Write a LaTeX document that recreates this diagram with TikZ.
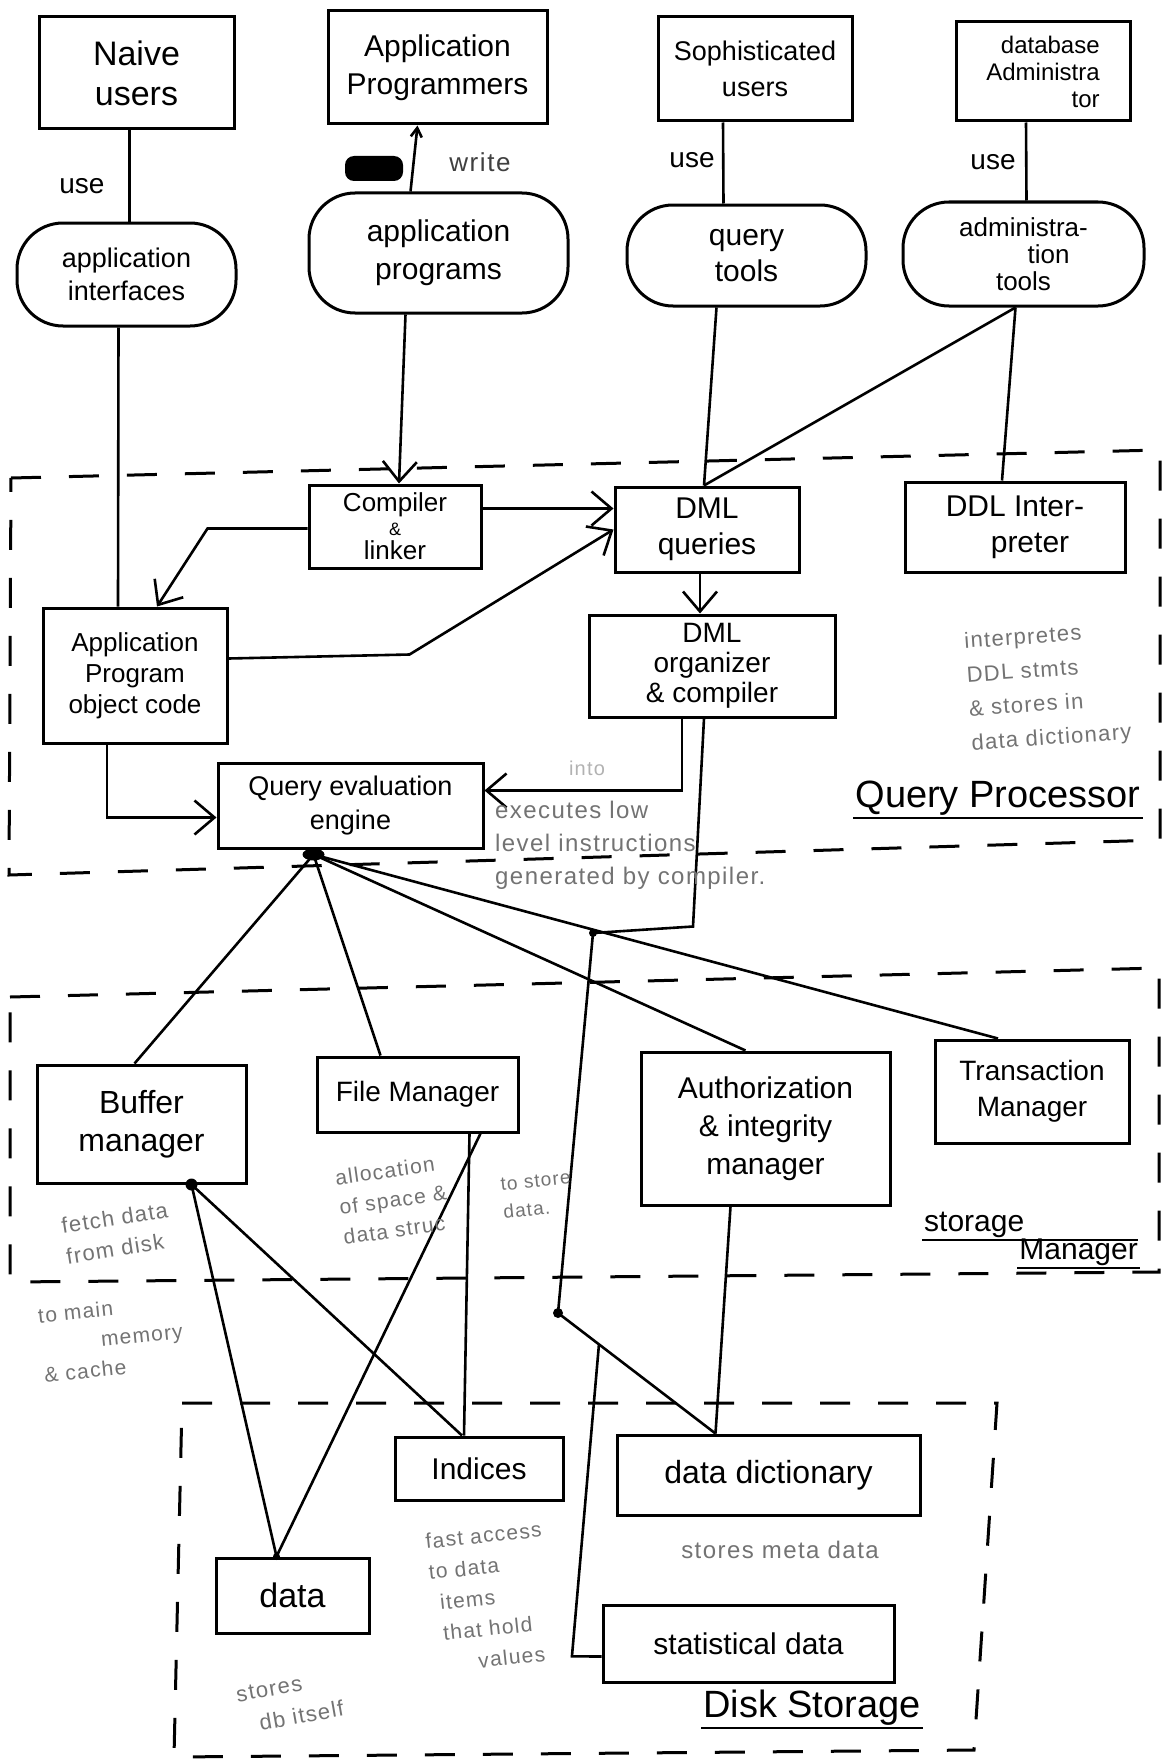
\documentclass[tikz,border=0pt]{standalone}
\usepackage{fontspec}
\setmainfont{Liberation Sans}
\newfontfamily\hand[LetterSpace=6]{Liberation Sans}
\usetikzlibrary{arrows.meta,calc}
\begin{document}
\begin{tikzpicture}[x=1pt,y=-1pt,
  box/.style={draw, line width=3pt, align=center, inner sep=2pt},
  oval/.style={draw, line width=3pt, rounded corners=46pt, align=center, inner sep=2pt},
  link/.style={line width=2.6pt},
  arr/.style={link, -{Straight Barb[length=20pt,width=34pt]}},
  zone/.style={line width=3pt, dash pattern=on 30pt off 28pt},
  fs/.style 2 args={font=\fontsize{#1}{#2}\selectfont},
  note/.style={text=black!55, align=left, inner sep=1pt},
  title/.style={inner sep=2pt, fs={38}{44}},
]
\useasboundingbox (0,0) rectangle (1168,1763);
\fill[white] (0,0) rectangle (1168,1763);

% ---- dashed zones ----
\draw[zone] (11,478) -- (1160,450) -- (1160,840) -- (9,875) -- cycle;
\draw[zone] (10,997) -- (1159,968) -- (1159,1272) -- (10,1282) -- cycle;
\draw[zone] (182,1403) -- (997,1403) -- (974,1750) -- (174,1757) -- cycle;

% ---- users ----
\node[box, minimum width=195pt, minimum height=112pt, fs={34}{40}] (naive) at (136.5,73) {Naive\\users};
\node[box, minimum width=219pt, minimum height=113pt, fs={30}{38}] (appprog) at (437.5,67.5) {Application\\Programmers};
\node[box, minimum width=194pt, minimum height=104pt, fs={27}{36}] (soph) at (755,69) {Sophisticated\\users};
\node[box, minimum width=174pt, minimum height=99pt, fs={24}{27}, align=right] (dba) at (1043,71.5) {database\\Administra\\tor};

% ---- tools ----
\node[oval, minimum width=219pt, minimum height=103pt, fs={27}{33}] (appif) at (126.5,274.5) {application\\interfaces};
\node[oval, minimum width=259pt, minimum height=120pt, fs={30}{38}] (appprogs) at (438.5,253) {application\\programs};
\node[oval, minimum width=239pt, minimum height=101pt, fs={30}{36}] (qtools) at (746.5,255.5) {query\\tools};
\node[oval, minimum width=241pt, minimum height=104pt, fs={26}{27}] (admtools) at (1023.5,254) {administra-\\\hspace*{50pt}tion\\tools};

% ---- labels on user links ----
\node[fs={28}{30}] (use1) at (82,186) {use};
\node[text=black!75, font=\hand\fontsize{26}{30}\selectfont] (write) at (480,162) {write};
\node[fs={28}{30}] (use3) at (692,160) {use};
\node[fs={28}{30}] (use4) at (993,162) {use};
\fill[black, rounded corners=9pt] (345,156) rectangle (403,181);

% ---- query processor ----
\node[box, minimum width=172pt, minimum height=83pt, fs={26}{24}] (compiler) at (395,526.5) {Compiler\\{\fontsize{18}{18}\selectfont\&}\\linker};
\node[box, minimum width=184pt, minimum height=85pt, fs={30}{36}] (dmlq) at (707,529.5) {DML\\queries};
\node[box, minimum width=220pt, minimum height=90pt, fs={30}{36}] (ddl) at (1015,527) {DDL Inter-\\\hspace*{30pt}preter};
\node[box, minimum width=184pt, minimum height=135pt, fs={26}{31}] (apobj) at (135,675.5) {Application\\Program\\object code};
\node[box, minimum width=246pt, minimum height=102pt, fs={28}{30}] (dmlc) at (712,666) {DML\\organizer\\\& compiler};
\node[box, minimum width=265pt, minimum height=85pt, fs={27}{34}] (qeval) at (350.5,805.5) {Query evaluation\\engine};

% ---- storage manager ----
\node[box, minimum width=209pt, minimum height=118pt, fs={32}{38}] (buffer) at (141.5,1124) {Buffer\\manager};
\node[box, minimum width=201pt, minimum height=75pt, fs={28}{32}] (file) at (417.5,1094.5) {File Manager};
\node[box, minimum width=249pt, minimum height=153pt, fs={30}{38}] (auth) at (765.5,1128.5) {Authorization\\\& integrity\\manager};
\node[box, minimum width=194pt, minimum height=103pt, fs={28}{36}] (trans) at (1032,1091.5) {Transaction\\Manager};

% ---- disk storage ----
\node[box, minimum width=168pt, minimum height=63pt, fs={30}{34}] (indices) at (479,1468.5) {Indices};
\node[box, minimum width=303pt, minimum height=80pt, fs={32}{36}] (datadict) at (768.5,1475) {data dictionary};
\node[box, minimum width=153pt, minimum height=75pt, fs={34}{36}] (data) at (292.5,1595.5) {data};
\node[box, minimum width=291pt, minimum height=77pt, fs={30}{34}] (stat) at (748.5,1643.5) {statistical data};

% ---- connectors: users to tools ----
\draw[link] ([xshift=-7pt]naive.south) -- ([xshift=3pt]appif.north);
\draw[link, -{Straight Barb[length=9pt,width=11pt]}] ([xshift=-28pt]appprogs.north) -- ([xshift=-20pt]appprog.south);
\draw[link] ([xshift=-32pt]soph.south) -- ([xshift=-23pt]qtools.north);
\draw[link] ([xshift=-17pt]dba.south) -- ([xshift=3pt]admtools.north);

% ---- connectors: tools to query processor ----
\draw[link] ([xshift=-30pt]qtools.south) -- ([xshift=-3pt]dmlq.north);
\draw[link] ([xshift=-8pt]admtools.south) -- ([xshift=-3pt]dmlq.north);
\draw[link] ([xshift=-8pt]admtools.south) -- ([xshift=-13pt]ddl.north);
\draw[link] ([xshift=-8pt]appif.south) -- ([xshift=-17pt]apobj.north);
\draw[arr] ([xshift=-33pt]appprogs.south) -- ([xshift=4pt]compiler.north);

% ---- inside the query processor ----
\draw[arr] ([yshift=18pt]compiler.east) -- ([yshift=21pt]dmlq.west);
\draw[arr] ([yshift=-2pt]compiler.west) -- ++(-100,0) -- ([xshift=22pt]apobj.north);
\draw[arr] ([yshift=17pt]apobj.east) -- ++(181,-4) -- (dmlq.west);
\draw[arr] ([xshift=-7pt]dmlq.south) -- ([xshift=-12pt]dmlc.north);
\draw[arr] ([xshift=-30pt]dmlc.south) |- ([yshift=15pt]qeval.east);
\draw[arr] ([xshift=-28pt]apobj.south) |- ([yshift=-12pt]qeval.west);

% ---- compiler output down to the disk ----
\coordinate (j1) at (593,933);
\coordinate (j2) at (558,1313);
\draw[link] ([xshift=-8pt]dmlc.south) -- ++(-11,208) -- (j1) -- (j2) -- ([xshift=-53pt]datadict.north);
\coordinate (j3) at ($(j2)!0.26!([xshift=-53pt]datadict.north)$);
\draw[link] (j3) -- ++(-27,312) -- ([yshift=-13pt]stat.west);
\fill (j1) circle (4pt);
\fill (j2) circle (5pt);

% ---- query evaluation engine to storage manager ----
\coordinate (qb) at ([xshift=-37pt,yshift=-5pt]qeval.south);
\draw[link] (qb) -- ([xshift=-7pt]buffer.north);
\draw[link] (qb) -- ([xshift=-37pt]file.north);
\draw[link] (qb) -- ([xshift=-20pt]auth.north);
\draw[link] (qb) -- ([xshift=-34pt]trans.north);
\fill (qb) ellipse (11pt and 6pt);

% ---- storage manager to disk ----
\coordinate (bb) at ([xshift=50pt]buffer.south);
\draw[link] (bb) -- ([xshift=-16pt]data.north);
\draw[link] (bb) -- ([xshift=-17pt]indices.north);
\fill (bb) circle (6pt);
\draw[link] ([xshift=63pt]file.south) -- ([xshift=-16pt]data.north);
\draw[link] ([xshift=52pt]file.south) -- ([xshift=-15pt]indices.north);
\draw[link] ([xshift=-35pt]auth.south) -- ([xshift=-53pt]datadict.north);
\fill ([xshift=-16pt]data.north) circle (3.5pt);

% ---- zone titles ----
\node[title, anchor=south] (qplbl) at (998,818) {Query Processor};
\draw[link] (qplbl.south west) -- (qplbl.south east);
\node[title, fs={30}{36}, anchor=south west] (smlbl1) at (922,1240) {storage};
\draw[link] (smlbl1.south west) -- ++(216,0);
\node[title, fs={30}{36}, anchor=south east] (smlbl2) at (1140,1268) {Manager};
\draw[link] (smlbl2.south west) -- (smlbl2.south east);
\node[title, anchor=south] (dslbl) at (812,1728) {Disk Storage};
\draw[link] (dslbl.south west) -- (dslbl.south east);

% ---- handwritten notes ----
\node[note, font=\hand\fontsize{22}{34}\selectfont, rotate=4] (n1) at (1048,688) {interpretes\\DDL stmts\\\& stores in\\data dictionary};
\node[note, text=black!30, font=\hand\fontsize{20}{24}\selectfont] (n2) at (587,768) {into};
\node[note, anchor=north west, font=\hand\fontsize{24}{33}\selectfont] (n3) at (494,800) {executes low\\level instructions\\generated by compiler.};
\node[note, font=\hand\fontsize{21}{30}\selectfont, rotate=8] (n4) at (393,1200) {allocation\\of space \&\\data struc};
\node[note, font=\hand\fontsize{19}{28}\selectfont, rotate=6] (n5) at (537,1195) {to store\\data.};
\node[note, font=\hand\fontsize{22}{31}\selectfont, rotate=9] (n6) at (117,1233) {fetch data\\from disk};
\node[note, font=\hand\fontsize{21}{30}\selectfont, rotate=6] (n7) at (112,1338) {to main\\\hspace*{60pt}memory\\\& cache};
\node[note, font=\hand\fontsize{21}{31}\selectfont, rotate=6] (n8) at (490,1597) {fast access\\to data\\\hspace*{8pt}items\\\hspace*{8pt}that hold\\\hspace*{40pt}values};
\node[note, font=\hand\fontsize{24}{28}\selectfont] (n9) at (780,1550) {stores meta data};
\node[note, font=\hand\fontsize{22}{32}\selectfont, rotate=10] (n10) at (290,1702) {stores\\\hspace*{18pt}db itself};
\end{tikzpicture}
\end{document}
